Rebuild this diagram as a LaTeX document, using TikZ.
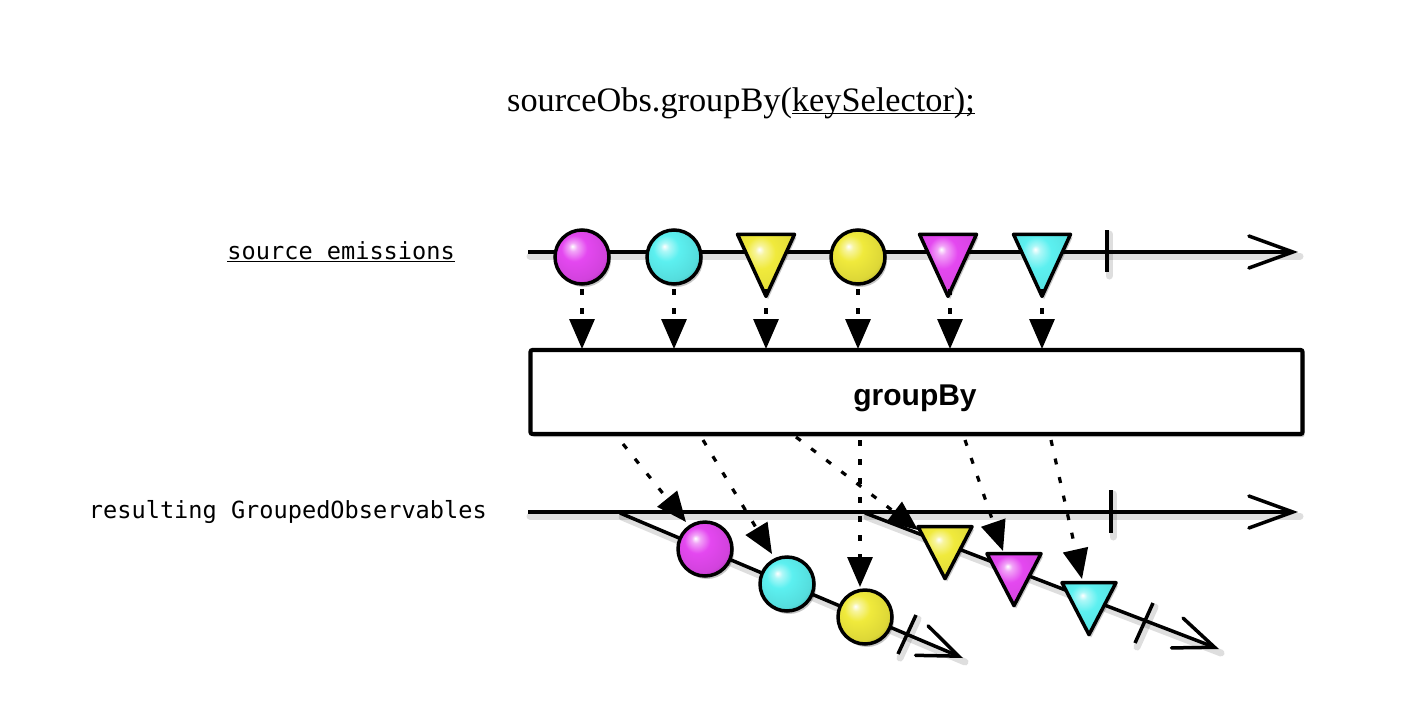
\documentclass[tikz,border=0pt]{standalone}
\usepackage{fontspec}
\setmainfont{Liberation Serif}
\setsansfont{Liberation Sans}
\setmonofont{DejaVu Sans Mono}
\usetikzlibrary{arrows.meta,shadows}
\definecolor{mag}{RGB}{228,72,240}
\definecolor{cyn}{RGB}{92,240,240}
\definecolor{yel}{RGB}{240,234,60}
\pgfdeclareradialshading{magball}{\pgfpoint{-9bp}{10bp}}{color(0bp)=(white); color(4bp)=(mag!50!white); color(12bp)=(mag); color(27bp)=(mag!92!black); color(34bp)=(mag!75!black); color(60bp)=(mag!75!black)}
\pgfdeclareradialshading{cynball}{\pgfpoint{-9bp}{10bp}}{color(0bp)=(white); color(4bp)=(cyn!50!white); color(12bp)=(cyn); color(27bp)=(cyn!92!black); color(34bp)=(cyn!75!black); color(60bp)=(cyn!75!black)}
\pgfdeclareradialshading{yelball}{\pgfpoint{-9bp}{10bp}}{color(0bp)=(white); color(4bp)=(yel!50!white); color(12bp)=(yel); color(27bp)=(yel!92!black); color(34bp)=(yel!75!black); color(60bp)=(yel!75!black)}
\pgfdeclareradialshading{magtri}{\pgfpoint{-6bp}{13bp}}{color(0bp)=(white); color(4bp)=(mag!50!white); color(13bp)=(mag); color(40bp)=(mag!90!black); color(60bp)=(mag!80!black)}
\pgfdeclareradialshading{cyntri}{\pgfpoint{-6bp}{13bp}}{color(0bp)=(white); color(4bp)=(cyn!50!white); color(13bp)=(cyn); color(40bp)=(cyn!90!black); color(60bp)=(cyn!80!black)}
\pgfdeclareradialshading{yeltri}{\pgfpoint{-6bp}{13bp}}{color(0bp)=(white); color(4bp)=(yel!50!white); color(13bp)=(yel); color(40bp)=(yel!90!black); color(60bp)=(yel!80!black)}
\tikzset{
  shad/.style={drop shadow={shadow xshift=2pt,shadow yshift=-3pt,opacity=0.22,fill=black}},
  lshad/.style={draw=black,opacity=0.13,line width=7pt,line cap=round},
  timeline/.style={line width=3.5pt,-{Straight Barb[length=44pt,width=32pt,line cap=round]}},
  term/.style={line width=3.5pt},
  ball/.style={circle,draw=black,line width=3.5pt,minimum size=54pt,inner sep=0pt,shading=#1,shad},
  tri/.style={draw=black,line width=3.5pt,line join=round,shading=#1,shad},
  dotarrow/.style={line width=3.2pt,dash pattern=on 6pt off 13pt,-{Triangle[length=30pt,width=25pt]}},
  opbox/.style={draw=black,line width=4.2pt,fill=white,rounded corners=2pt,shad},
  lab/.style={font=\fontsize{23.6}{26}\selectfont\ttfamily,inner sep=0pt}
}
\newcommand{\myul}[1]{\setbox0\hbox{#1}\rlap{\rule[-3pt]{\wd0}{1.3pt}}\box0}
% \mytri{name}{cx}{cy}{w}{h}{shading}
\newcommand{\mytri}[6]{%
  \path[tri=#6] ({#2-#4/2},{#3-#5/3}) -- ({#2+#4/2},{#3-#5/3}) -- (#2,{#3+2*#5/3}) -- cycle;
  \coordinate (#1) at (#2,#3);
  \coordinate (#1-tip) at (#2,{#3+2*#5/3});
  \coordinate (#1-top) at (#2,{#3-#5/3});
}
\begin{document}
\begin{tikzpicture}[x=1pt,y=-1pt]
\useasboundingbox[fill=white] (0,0) rectangle (1413,707);

% title
\node[anchor=base,inner sep=0pt,font=\fontsize{34.3}{38}\selectfont] (title) at (741,111) {sourceObs.groupBy(\myul{keySelector);}};

% labels
\node[lab,anchor=base east] (srclab) at (455,259) {\myul{source emissions}};
\node[lab,anchor=base east] (reslab) at (487,518) {resulting GroupedObservables};

% source timeline
\coordinate (src0) at (528,252);
\coordinate (src1) at (1298,252);
\coordinate (srcT0) at (1107,230);
\coordinate (srcT1) at (1107,272);
\draw[lshad] ([shift={(2,4)}]src0) -- ([shift={(2,4)}]src1);
\draw[lshad] ([shift={(2,4)}]srcT0) -- ([shift={(2,4)}]srcT1);
\draw[timeline] (src0) -- (src1);
\draw[term] (srcT0) -- (srcT1);

\node[ball=magball] (s1) at (582,257) {};
\node[ball=cynball] (s2) at (674,257) {};
\mytri{s3}{766}{255}{57}{62}{yeltri}
\node[ball=yelball] (s4) at (858,257) {};
\mytri{s5}{948}{255}{57}{62}{magtri}
\mytri{s6}{1042}{255}{57}{62}{cyntri}

% operator box
\node[opbox,minimum width=772pt,minimum height=84pt,inner sep=0pt] (op) at (916.5,392) {};
\node[font=\fontsize{30}{34}\selectfont\sffamily\bfseries,anchor=base,inner sep=0pt] (oplab) at (915,405) {groupBy};

% arrows into box
\foreach \n/\x in {s1/582,s2/674,s3/766,s4/858,s5/950,s6/1042}{
  \coordinate (\n-a) at (\x,289);
  \coordinate (\n-b) at (\x,349);
  \draw[dotarrow] (\n-a) -- (\n-b);
}

% result timeline
\coordinate (res0) at (528,512);
\coordinate (res1) at (1298,512);
\coordinate (resT0) at (1111,490);
\coordinate (resT1) at (1111,533);
\draw[lshad] ([shift={(2,4)}]res0) -- ([shift={(2,4)}]res1);
\draw[lshad] ([shift={(2,4)}]resT0) -- ([shift={(2,4)}]resT1);
\draw[timeline] (res0) -- (res1);
\draw[term] (resT0) -- (resT1);

% group 1
\coordinate (g1a) at (620,513);
\coordinate (g1b) at (963,658);
\coordinate (g1T0) at (898,654);
\coordinate (g1T1) at (916,615);
\draw[lshad] ([shift={(2,4)}]g1a) -- ([shift={(2,4)}]g1b);
\draw[lshad] ([shift={(2,4)}]g1T0) -- ([shift={(2,4)}]g1T1);
\draw[timeline,-{Straight Barb[length=40pt,width=32pt,line cap=round]}] (g1a) -- (g1b);
\draw[term] (g1T0) -- (g1T1);
\node[ball=magball] (r1) at (705,549) {};
\node[ball=cynball] (r2) at (787,584) {};
\node[ball=yelball] (r4) at (865,617) {};

% group 2
\coordinate (g2a) at (865,513);
\coordinate (g2b) at (1219,649);
\coordinate (g2T0) at (1135,643);
\coordinate (g2T1) at (1153,603);
\draw[lshad] ([shift={(2,4)}]g2a) -- ([shift={(2,4)}]g2b);
\draw[lshad] ([shift={(2,4)}]g2T0) -- ([shift={(2,4)}]g2T1);
\draw[timeline,-{Straight Barb[length=40pt,width=32pt,line cap=round]}] (g2a) -- (g2b);
\draw[term] (g2T0) -- (g2T1);
\mytri{r3}{945}{544}{54}{52}{yeltri}
\mytri{r5}{1014}{571}{54}{52}{magtri}
\mytri{r6}{1089}{600}{54}{52}{cyntri}

% arrows out of box
\coordinate (o1) at (623,444);
\coordinate (o2) at (703,440);
\coordinate (o3) at (796,437);
\coordinate (o4) at (860,440);
\coordinate (o5) at (965,440);
\coordinate (o6) at (1051,440);
\coordinate (t1) at (686,522);
\coordinate (t2) at (772,554);
\coordinate (t3) at (918,530);
\coordinate (t4) at (860,587);
\coordinate (t5) at (1003,551);
\coordinate (t6) at (1082,579);
\foreach \i in {1,...,6}{
  \draw[dotarrow] (o\i) -- (t\i);
}
\end{tikzpicture}
\end{document}
